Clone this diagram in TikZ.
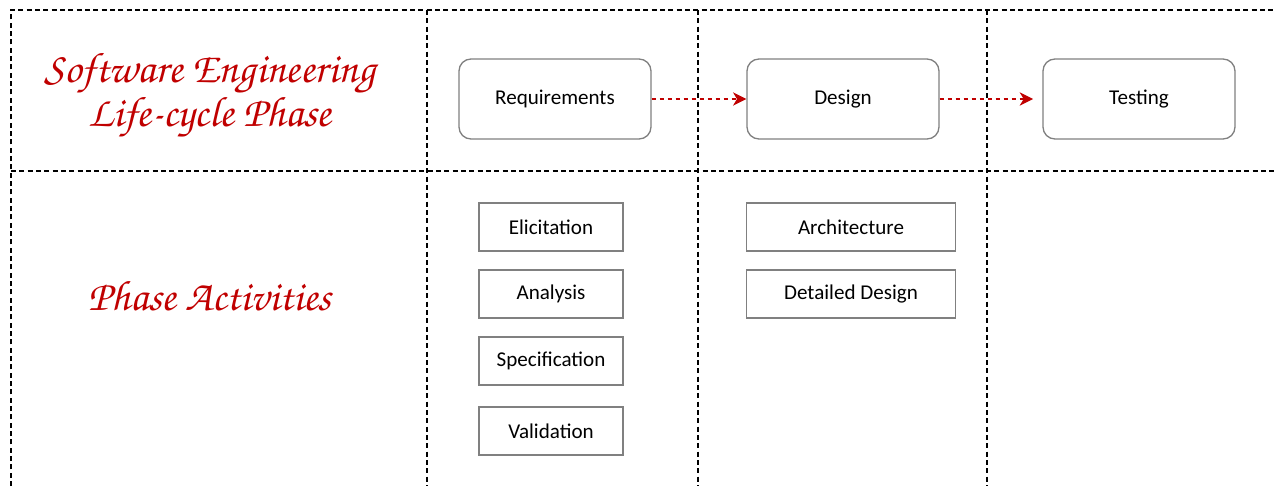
\documentclass[tikz,border=0pt]{standalone}
\usepackage[T1]{fontenc}
\usepackage{fontspec}
\setmainfont{Carlito}
\usetikzlibrary{arrows.meta}
\definecolor{phasered}{RGB}{192, 0, 0}
\definecolor{boxgray}{RGB}{128, 128, 128}
% Zapf Chancery for the row headings
\newcommand{\handfont}{\fontencoding{T1}\fontfamily{pzc}\fontseries{mb}\fontshape{it}\selectfont}

\begin{document}
\begin{tikzpicture}[x=0.75pt, y=-0.75pt,
    phasebox/.style={draw=boxgray, line width=1pt, rounded corners=9pt,
      minimum width=144pt, minimum height=60pt, font=\fontsize{15.8}{18}\selectfont},
    actbox/.style={draw=boxgray, line width=1pt, minimum width=108pt,
      minimum height=36pt, font=\fontsize{15.8}{18}\selectfont},
    flow/.style={-{Stealth[length=10pt, width=10pt, inset=3pt]}, phasered,
      line width=0.9pt, dash pattern=on 3.5pt off 2.5pt},
    gridline/.style={line width=1.1pt, dash pattern=on 3.75pt off 2.5pt},
    heading/.style={phasered, align=center, font=\handfont\fontsize{32}{33}\selectfont}]
  \useasboundingbox (0,0) rectangle (1275,486);
  % Table lines
  \draw[gridline] (11,486) -- (11,10) -- (1275,10);
  \draw[gridline] (11,171) -- (1275,171);
  \foreach \x in {427, 698, 987}
    \draw[gridline] (\x,10) -- (\x,486);
  % Row headings
  \node[heading] (lifecycle) at (210,96) {Software Engineering\\Life-cycle Phase};
  \node[heading] (activities) at (210,296) {Phase Activities};
  % Phases
  \node[phasebox] (req) at (555,99) {Requirements};
  \node[phasebox] (des) at (843,99) {Design};
  \node[phasebox] (test) at (1139,99) {Testing};
  \draw[flow] (req) -- (des);
  \draw[flow, shorten >=7pt] (des) -- (test);
  % Activities per phase
  \node[actbox] (elicit) at (551,227) {Elicitation};
  \node[actbox] (analysis) at (551,294) {Analysis};
  \node[actbox] (spec) at (551,361) {Specification};
  \node[actbox] (valid) at (551,431) {Validation};
  \node[actbox, minimum width=157pt] (arch) at (851,227) {Architecture};
  \node[actbox, minimum width=157pt] (detail) at (851,294) {Detailed Design};
\end{tikzpicture}
\end{document}
